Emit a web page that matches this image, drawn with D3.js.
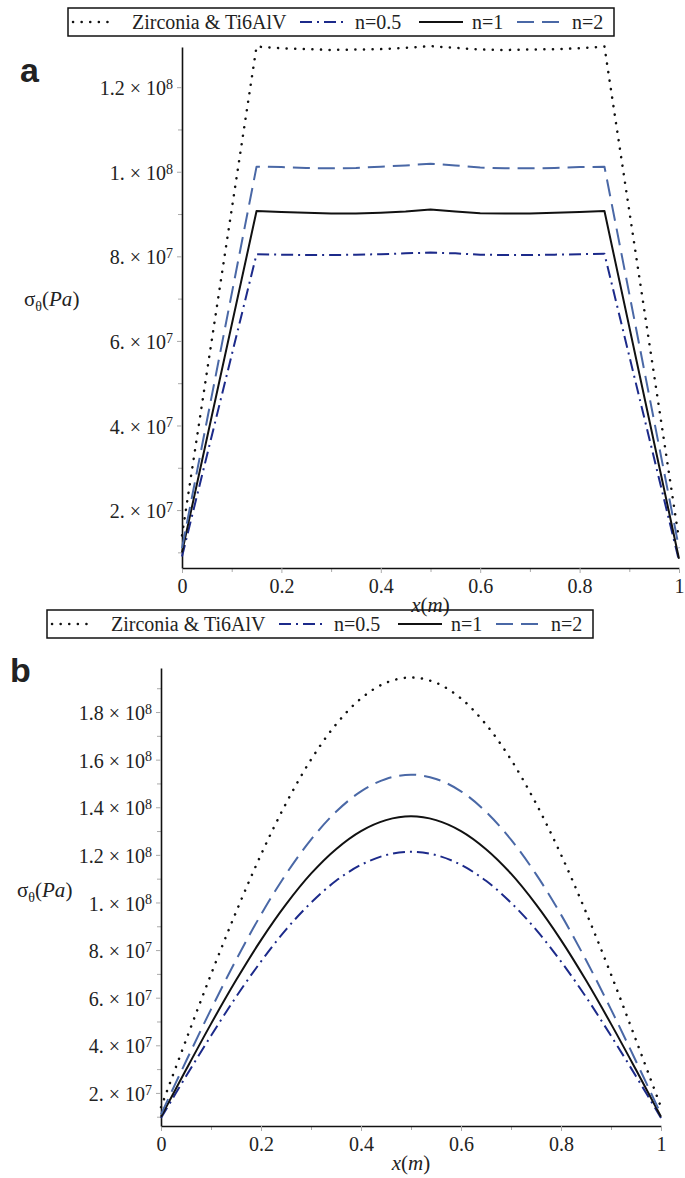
<!DOCTYPE html>
<html>
<head>
<meta charset="utf-8">
<script src="https://cdn.jsdelivr.net/npm/d3@7"></script>
<style>
  body { margin: 0; background: #fff; }
  svg { display: block; }
  text { font-family: "Liberation Serif", "Times New Roman", serif; fill: #222; }
</style>
</head>
<body>
<div id="chart"></div>
<script>
var svgWidth = 685;
var svgHeight = 1178;

var seriesNames = ["Zirconia & Ti6AlV", "n=0.5", "n=1", "n=2"];

// panel a : piecewise profile
var xA = [0, 0.15, 0.2, 0.25, 0.3, 0.35, 0.4, 0.45, 0.5, 0.55, 0.6, 0.65, 0.7, 0.75, 0.8, 0.85, 1];
var zirconiaA = [1.4e7, 1.296e8, 1.292e8, 1.290e8, 1.288e8, 1.289e8, 1.290e8, 1.293e8, 1.297e8, 1.293e8, 1.289e8, 1.288e8, 1.289e8, 1.290e8, 1.292e8, 1.296e8, 1.3e7];
var n05A = [9e6, 8.05e7, 8.04e7, 8.03e7, 8.03e7, 8.04e7, 8.05e7, 8.07e7, 8.09e7, 8.07e7, 8.04e7, 8.03e7, 8.03e7, 8.04e7, 8.05e7, 8.06e7, 8e6];
var n1A = [1.0e7, 9.07e7, 9.05e7, 9.03e7, 9.01e7, 9.01e7, 9.03e7, 9.06e7, 9.11e7, 9.06e7, 9.02e7, 9.01e7, 9.01e7, 9.03e7, 9.05e7, 9.07e7, 8.5e6];
var n2A = [1.1e7, 1.012e8, 1.011e8, 1.009e8, 1.008e8, 1.009e8, 1.012e8, 1.015e8, 1.019e8, 1.015e8, 1.010e8, 1.008e8, 1.008e8, 1.009e8, 1.011e8, 1.012e8, 1.1e7];

// panel b : bell-shaped profile
var xB = [0, 0.05, 0.1, 0.15, 0.2, 0.25, 0.3, 0.35, 0.4, 0.45, 0.5, 0.55, 0.6, 0.65, 0.7, 0.75, 0.8, 0.85, 0.9, 0.95, 1];
var zirconiaB = [1.4e7, 4.22e7, 6.98e7, 9.59e7, 1.201e8, 1.416e8, 1.600e8, 1.748e8, 1.857e8, 1.923e8, 1.945e8, 1.923e8, 1.857e8, 1.748e8, 1.600e8, 1.416e8, 1.201e8, 9.59e7, 6.98e7, 4.22e7, 1.4e7];
var n05B = [9.5e6, 2.70e7, 4.40e7, 6.03e7, 7.52e7, 8.86e7, 9.99e7, 1.091e8, 1.158e8, 1.199e8, 1.213e8, 1.199e8, 1.158e8, 1.091e8, 9.99e7, 8.86e7, 7.52e7, 6.03e7, 4.40e7, 2.70e7, 9.5e6];
var n1B = [1.0e7, 2.97e7, 4.90e7, 6.73e7, 8.42e7, 9.92e7, 1.121e8, 1.224e8, 1.300e8, 1.346e8, 1.362e8, 1.346e8, 1.300e8, 1.224e8, 1.121e8, 9.92e7, 8.42e7, 6.73e7, 4.90e7, 2.97e7, 1.0e7];
var n2B = [1.1e7, 3.33e7, 5.51e7, 7.58e7, 9.49e7, 1.119e8, 1.264e8, 1.381e8, 1.467e8, 1.519e8, 1.537e8, 1.519e8, 1.467e8, 1.381e8, 1.264e8, 1.119e8, 9.49e7, 7.58e7, 5.51e7, 3.33e7, 1.1e7];

// tick labels
var xTicks = [0, 0.2, 0.4, 0.6, 0.8, 1];
var xTickLabels = ["0", "0.2", "0.4", "0.6", "0.8", "1"];
var yTicksA = [2e7, 4e7, 6e7, 8e7, 1e8, 1.2e8];
var yTicksB = [2e7, 4e7, 6e7, 8e7, 1e8, 1.2e8, 1.4e8, 1.6e8, 1.8e8];
var yMantissa = {2e7: "2.", 4e7: "4.", 6e7: "6.", 8e7: "8.", 1e8: "1.", 1.2e8: "1.2", 1.4e8: "1.4", 1.6e8: "1.6", 1.8e8: "1.8"};
var yExponent = {2e7: "7", 4e7: "7", 6e7: "7", 8e7: "7", 1e8: "8", 1.2e8: "8", 1.4e8: "8", 1.6e8: "8", 1.8e8: "8"};

var styles = [
  { color: "#111", width: 2.5, dash: "0.1,8.5", cap: "round" },
  { color: "#1c2a8a", width: 2, dash: "12,5,2,5", cap: "butt" },
  { color: "#111", width: 2, dash: null, cap: "butt" },
  { color: "#4a68a6", width: 2, dash: "17,8", cap: "butt" }
];

var svg = d3.select("#chart")
  .append("svg")
  .attr("width", svgWidth)
  .attr("height", svgHeight);

function drawLegend(left, top) {
  var g = svg.append("g").attr("transform", `translate(${left}, ${top})`);
  g.append("rect")
    .attr("x", 0).attr("y", 0)
    .attr("width", 546).attr("height", 28)
    .attr("fill", "none").attr("stroke", "#111").attr("stroke-width", 1.5);
  var samples = [[5, 48], [232, 279], [351, 395], [449, 497]];
  var labelX = [64, 287, 404, 504];
  seriesNames.forEach(function(name, i) {
    var s = styles[i];
    g.append("line")
      .attr("x1", samples[i][0]).attr("x2", samples[i][1])
      .attr("y1", 14).attr("y2", 14)
      .attr("stroke", s.color).attr("stroke-width", s.width)
      .attr("stroke-dasharray", s.dash).attr("stroke-linecap", s.cap);
    g.append("text")
      .attr("x", labelX[i]).attr("y", 21)
      .attr("font-size", "20px")
      .text(name);
  });
}

function yLabel(left, top) {
  var t = svg.append("text")
    .attr("x", left).attr("y", top)
    .attr("font-size", "21px");
  t.append("tspan").text("σ");
  t.append("tspan").attr("dy", 5).attr("font-size", "14px").text("θ");
  t.append("tspan").attr("dy", -5).text("(");
  t.append("tspan").attr("font-style", "italic").text("Pa");
  t.append("tspan").text(")");
}

function drawPanel(p) {
  var x = d3.scaleLinear().domain([0, 1]).range([p.left, p.right]);
  var y = d3.scaleLinear().domain(p.yDomain).range([p.bottom, p.top]);

  // minor ticks
  var minorX = d3.range(1, 10, 2).map(d => d / 10);
  svg.append("g")
    .attr("transform", `translate(0, ${p.bottom})`)
    .call(d3.axisBottom(x).tickValues(minorX).tickFormat("").tickSize(4).tickSizeOuter(0))
    .call(g => g.select(".domain").remove())
    .selectAll("line").attr("stroke", "#aaa");
  var minorY = p.yTicks.map(d => d - 1e7);
  svg.append("g")
    .attr("transform", `translate(${p.left}, 0)`)
    .call(d3.axisLeft(y).tickValues(minorY.concat([d3.max(p.yTicks) + 1e7]).filter(d => d >= p.yDomain[0] && d <= p.yDomain[1])).tickFormat("").tickSize(4).tickSizeOuter(0))
    .call(g => g.select(".domain").remove())
    .selectAll("line").attr("stroke", "#aaa");

  // x axis
  var xAxis = svg.append("g")
    .attr("transform", `translate(0, ${p.bottom})`)
    .call(d3.axisBottom(x).tickValues(xTicks).tickFormat((d, i) => xTickLabels[i]).tickSize(5).tickSizeOuter(0));
  xAxis.select(".domain").attr("stroke", "#111").attr("stroke-width", 1.6);
  xAxis.selectAll(".tick line").attr("stroke", "#aaa");
  xAxis.selectAll(".tick text")
    .attr("font-family", "Liberation Serif, serif")
    .attr("font-size", "20px").attr("fill", "#222").attr("dy", "0.85em");

  // y axis
  var yAxis = svg.append("g")
    .attr("transform", `translate(${p.left}, 0)`)
    .call(d3.axisLeft(y).tickValues(p.yTicks).tickFormat("").tickSize(5).tickSizeOuter(0));
  yAxis.select(".domain").attr("stroke", "#111").attr("stroke-width", 1.6);
  yAxis.selectAll(".tick line").attr("stroke", "#aaa");
  yAxis.selectAll(".tick").append("text")
    .attr("x", -9).attr("dy", "0.38em")
    .attr("text-anchor", "end")
    .attr("font-family", "Liberation Serif, serif")
    .attr("font-size", "20px").attr("fill", "#222")
    .each(function(d) {
      var t = d3.select(this);
      t.append("tspan").text(yMantissa[d] + " \u00d7 10");
      t.append("tspan").attr("dy", "-0.45em").attr("font-size", "14px").text(yExponent[d]);
    });

  // curves
  var line = d3.line()
    .x(d => x(d[0]))
    .y(d => y(d[1]))
    .curve(p.curve);
  p.series.forEach(function(vals, i) {
    var s = styles[i];
    svg.append("path")
      .datum(p.xs.map((xv, j) => [xv, vals[j]]))
      .attr("d", line)
      .attr("fill", "none")
      .attr("stroke", s.color)
      .attr("stroke-width", s.width)
      .attr("stroke-dasharray", s.dash)
      .attr("stroke-linecap", s.cap)
      .attr("stroke-linejoin", "round");
  });

  // x label
  var xl = svg.append("text")
    .attr("x", (p.left + p.right) / 2).attr("y", p.bottom + 44)
    .attr("text-anchor", "middle")
    .attr("font-size", "21px");
  xl.append("tspan").attr("font-style", "italic").text("x");
  xl.append("tspan").text("(");
  xl.append("tspan").attr("font-style", "italic").text("m");
  xl.append("tspan").text(")");
}

// panel a
drawLegend(68, 8);
svg.append("text")
  .attr("x", 20).attr("y", 82)
  .style("font-family", "Liberation Sans, Arial, sans-serif")
  .attr("font-weight", "bold").attr("font-size", "34px").attr("fill", "#111")
  .text("a");
yLabel(24, 306);
drawPanel({
  left: 182, right: 679, top: 47, bottom: 568,
  yDomain: [6.3e6, 1.295e8],
  yTicks: yTicksA,
  xs: xA,
  series: [zirconiaA, n05A, n1A, n2A],
  curve: d3.curveLinear
});

// panel b
drawLegend(47, 610);
svg.append("text")
  .attr("x", 10).attr("y", 682)
  .style("font-family", "Liberation Sans, Arial, sans-serif")
  .attr("font-weight", "bold").attr("font-size", "34px").attr("fill", "#111")
  .text("b");
yLabel(17, 897);
drawPanel({
  left: 161, right: 661, top: 668, bottom: 1126,
  yDomain: [6.1e6, 1.985e8],
  yTicks: yTicksB,
  xs: xB,
  series: [zirconiaB, n05B, n1B, n2B],
  curve: d3.curveCatmullRom
});
</script>
</body>
</html>
